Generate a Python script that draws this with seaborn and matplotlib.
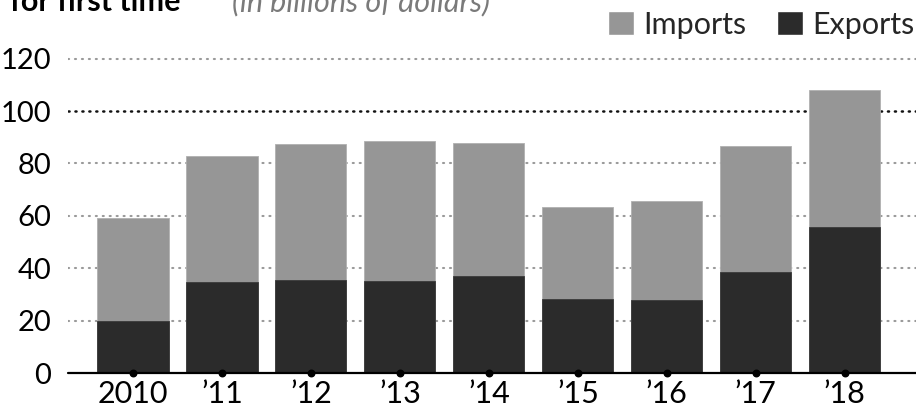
import matplotlib
matplotlib.use("Agg")
import matplotlib.pyplot as plt
import seaborn as sns
import pandas as pd
from matplotlib.patches import Patch

# Trade values, billions of dollars
years = ["2010", "’11", "’12", "’13", "’14", "’15", "’16", "’17", "’18"]
exports = [20.0, 34.6, 35.4, 35.2, 37.1, 28.2, 27.7, 38.5, 55.7]
imports = [39.0, 48.3, 51.9, 53.3, 50.7, 35.0, 38.1, 48.1, 52.2]
y_ticks = [0, 20, 40, 60, 80, 100, 120]

IMPORT_COLOR = "#969696"
EXPORT_COLOR = "#2b2b2b"

sns.set_style("white")
plt.rcParams["font.family"] = ["Lato", "DejaVu Sans"]
plt.rcParams["lines.scale_dashes"] = False

df = pd.DataFrame({"year": years, "exports": exports, "imports": imports})
df["total"] = df["exports"] + df["imports"]

fig = plt.figure(figsize=(9.16, 4.09), dpi=100)
ax = fig.add_axes([0.0742, 0.088, 0.9258, 0.7814])

# Dotted guide lines, with the 100 line emphasised
for t in y_ticks[1:]:
    strong = t == 100
    ax.axhline(t, color="#111111" if strong else "#9a9a9a",
               linestyle=(0, (0.8, 4.2)), linewidth=1.8 if strong else 1.5,
               dash_capstyle="round", zorder=0)

# Stacked bars: total (imports on top) then exports over it
sns.barplot(data=df, x="year", y="total", color=IMPORT_COLOR, width=0.8,
            saturation=1, ax=ax, zorder=2, edgecolor="#b0b0b0", linewidth=0.6)
sns.barplot(data=df, x="year", y="exports", color=EXPORT_COLOR, width=0.8,
            saturation=1, ax=ax, zorder=3, edgecolor="#3a3a3a", linewidth=0.6)

ax.axhline(0, color="black", linewidth=1.6, zorder=4, clip_on=False)
ax.scatter(range(len(years)), [0] * len(years), s=22, color="black",
           zorder=5, clip_on=False)

ax.set_xlim(-0.73, 8.8)
ax.set_ylim(0, 122)
ax.set_yticks(y_ticks)
ax.set_yticklabels([str(t) for t in y_ticks])
ax.set_xlabel("")
ax.set_ylabel("")
ax.tick_params(axis="y", length=0, pad=12, labelsize=21, colors="black")
ax.tick_params(axis="x", length=0, pad=5, labelsize=22, colors="black")
for s in ax.spines.values():
    s.set_visible(False)

# Legend drawn as patches with labels
handles = [Patch(facecolor=IMPORT_COLOR, label="Imports"),
           Patch(facecolor=EXPORT_COLOR, label="Exports")]
fig.legend(handles=handles, loc="upper right", bbox_to_anchor=(1.003, 0.985),
           ncol=2, frameon=False, fontsize=22, handlelength=0.85,
           handleheight=0.85, handletextpad=0.3, columnspacing=1.0,
           borderaxespad=0.0, borderpad=0.15)

# Headline (top line falls outside the canvas)
fig.text(0.011, 1 - 11 / 409, "for first time", fontsize=22,
         fontweight="bold", color="black", va="baseline", ha="left")
fig.text(0.253, 1 - 11 / 409, "(in billions of dollars)", fontsize=22,
         fontstyle="italic", color="#7a7a7a", va="baseline", ha="left")

fig.savefig("out.png", dpi=100)
